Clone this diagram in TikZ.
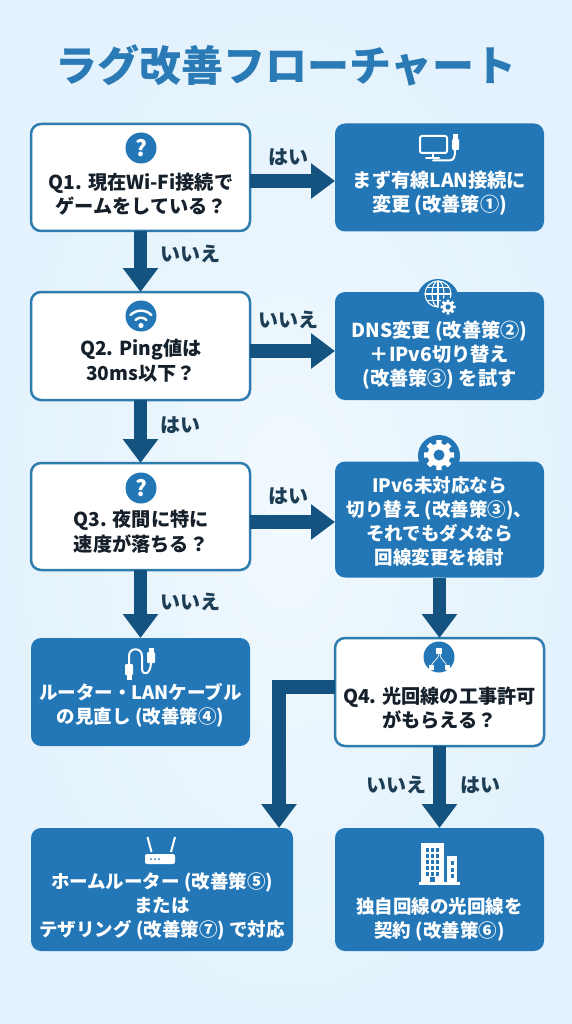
\documentclass[tikz,border=0pt]{standalone}
\usepackage{fontspec}
\setmainfont{Noto Sans CJK JP}
\usetikzlibrary{arrows.meta,calc}
\definecolor{boxblue}{HTML}{2377B7}
\definecolor{edgeblue}{HTML}{2F7DAE}
\definecolor{arrowblue}{HTML}{14527F}
\definecolor{titleblue}{HTML}{2A7AB6}
\definecolor{qtext}{HTML}{15202A}
\definecolor{labeltext}{HTML}{1D3D55}
\definecolor{bginner}{HTML}{F0F9FE}
\definecolor{bgouter}{HTML}{E3F2FC}
\newcommand{\mygear}[6]{% x,y,outer,body,hole,colour
  \begin{scope}[shift={(#1,#2)}]
    \fill[#6] (0,0) circle[radius=#4];
    \foreach \a in {0,45,...,315}{\fill[#6,rotate=\a] (-0.22*#3,0) -- (-0.17*#3,#3) -- (0.17*#3,#3) -- (0.22*#3,0) -- cycle;}
    \fill[boxblue] (0,0) circle[radius=#5];
  \end{scope}}
\tikzset{
  question/.style={draw=edgeblue,line width=2.5pt,fill=white,rounded corners=10pt,outer sep=0pt,inner sep=0pt},
  answer/.style={fill=boxblue,rounded corners=10pt,outer sep=0pt,inner sep=0pt},
  qlabel/.style={font=\fontsize{19.2}{24.5}\selectfont\bfseries,text=qtext,align=center,inner sep=0pt},
  alabel/.style={font=\fontsize{19.2}{24}\selectfont\bfseries,text=white,align=center,inner sep=0pt},
  alabelsmall/.style={font=\fontsize{18.5}{24}\selectfont\bfseries,text=white,align=center,inner sep=0pt},
  branch/.style={font=\fontsize{20}{24}\selectfont\bfseries,text=labeltext,inner sep=0pt},
  flow/.style={draw=arrowblue,line width=13.5pt,-{Triangle[length=24pt,width=34pt]}},
  iconline/.style={draw=white,line width=2pt,line cap=round,line join=round},
  iconthin/.style={draw=white,line width=1.1pt},
  badge/.style={circle,fill=boxblue,minimum size=31pt,inner sep=0pt,text=white,font=\fontsize{22}{22}\selectfont\bfseries}
}
\begin{document}
\begin{tikzpicture}[x=1pt,y=-1pt]
\useasboundingbox (0,0) rectangle (572,1024);
\shade[inner color=bginner,outer color=bgouter] (0,0) rectangle (572,1024);

\node[inner sep=0pt,text=titleblue,font=\fontsize{42}{46}\selectfont\bfseries] (title) at (286,65) {ラグ改善フローチャート};

% bumps behind icon boxes
\fill[boxblue] (438,300) circle[radius=21];
\fill[boxblue] (439,456) circle[radius=21];

% boxes
\node[question,minimum width=219pt,minimum height=107pt] (q1) at (140.5,177.5) {};
\node[answer,minimum width=209pt,minimum height=108pt] (r1) at (439.5,177.5) {};
\node[question,minimum width=219pt,minimum height=108pt] (q2) at (140.5,346) {};
\node[answer,minimum width=209pt,minimum height=108pt] (r2) at (439.5,346) {};
\node[question,minimum width=219pt,minimum height=107pt] (q3) at (140.5,516.5) {};
\node[answer,minimum width=209pt,minimum height=116pt] (r3) at (439.5,519.5) {};
\node[answer,minimum width=219pt,minimum height=108pt] (r4) at (140.5,692) {};
\node[question,minimum width=209pt,minimum height=108pt] (q4) at (439.5,692) {};
\node[answer,minimum width=262pt,minimum height=123pt] (r5) at (162,889.5) {};
\node[answer,minimum width=209pt,minimum height=123pt] (r6) at (439.5,889.5) {};

% texts
\node[qlabel] (tq1) at (141,194) {Q1. 現在Wi-Fi接続で\\ゲームをしている？};
\node[qlabel] (tq2) at (141,360.5) {Q2. Ping値は\\30ms以下？};
\node[qlabel] (tq3) at (141,531.5) {Q3. 夜間に特に\\速度が落ちる？};
\node[qlabel] (tq4) at (439.5,708) {Q4. 光回線の工事許可\\がもらえる？};
\node[alabel] (tr1) at (439.5,193.5) {まず有線LAN接続に\\変更 (改善策①)};
\node[alabel] (tr2) at (439.5,355) {DNS変更 (改善策②)\\＋IPv6切り替え\\(改善策③) を試す};
\node[alabelsmall] (tr3) at (439.5,522) {IPv6未対応なら\\切り替え (改善策③)、\\それでもダメなら\\回線変更を検討};
\node[alabelsmall] (tr4) at (140.5,705.5) {ルーター・LANケーブル\\の見直し (改善策④)};
\node[alabelsmall] (tr5) at (162,906.5) {ホームルーター (改善策⑤)\\または\\テザリング (改善策⑦) で対応};
\node[alabelsmall] (tr6) at (439.5,919) {独自回線の光回線を\\契約 (改善策⑥)};

% connectors
\draw[flow] (q1.south) -- (q2.north);
\draw[flow] (q2.south) -- (q3.north);
\draw[flow] (q3.south) -- (r4.north);
\draw[flow] (r3.south) -- (q4.north);
\draw[flow] (q4.south) -- (r6.north);
\draw[flow] ([yshift=-3.5pt]q1.east) -- ([yshift=-3.5pt]q1.east -| r1.west);
\draw[flow] ([yshift=-5pt]q2.east) -- ([yshift=-5pt]q2.east -| r2.west);
\draw[flow] ([yshift=-5.5pt]q3.east) -- ([yshift=-5.5pt]q3.east -| r3.west);
\coordinate (elbow) at (279,687);
\draw[flow] (elbow -| q4.west) -- (elbow) -- (elbow |- r5.north);

% branch labels
\node[branch] (b1) at (288,157) {はい};
\node[branch] (b2) at (190,254) {いいえ};
\node[branch] (b3) at (288,320) {いいえ};
\node[branch] (b4) at (180,425) {はい};
\node[branch] (b5) at (288,496) {はい};
\node[branch] (b6) at (190,602) {いいえ};
\node[branch] (b7) at (396,785) {いいえ};
\node[branch] (b8) at (480,785) {はい};

% question badges
\node[badge] (i1) at (141,148) {?};
\node[badge] (i3) at (141,488) {?};
\node[badge] (i2) at (141,316) {};
\fill[white] (141,325.5) circle[radius=2.6];
\draw[white,line width=2.4pt,line cap=round] (135.5,320) arc[start angle=225,end angle=315,radius=7.8];
\draw[white,line width=2.4pt,line cap=round] (130.5,315) arc[start angle=225,end angle=315,radius=14.8];

% icon: monitor and cable
\draw[iconline,rounded corners=2pt] (420,136) rectangle (447,153);
\draw[iconline] (433,153) -- (433,158);
\draw[iconline] (426,158.5) -- (439,158.5);
\draw[iconline] (433,160.5) -- (449,160.5) .. controls (454,160.5) and (455,157) .. (455,150);
\fill[white,rounded corners=1pt] (452,139) rectangle (459,150);
\fill[white] (453,134) rectangle (458,139);

% icon: globe and gear
\begin{scope}[iconthin]
\draw (438,294) circle[radius=13];
\draw (438,294) ellipse[x radius=6,y radius=13];
\draw (438,281) -- (438,307);
\draw (425,294) -- (451,294);
\draw (427,287.5) -- (449,287.5);
\draw (427,300.5) -- (449,300.5);
\end{scope}
\fill[boxblue] (448,307) circle[radius=9.5];
\mygear{448}{307}{7.5}{5.5}{2.6}{white}

% icon: big gear
\mygear{439}{455}{15}{11.5}{5.5}{white}

% icon: network
\node[badge] (i4) at (439,657) {};
\draw[white,line width=0.7pt] (439,652) .. controls (439,661) and (433,659) .. (431,667);
\draw[white,line width=0.7pt] (440,652) .. controls (440,662) and (446,660) .. (447,667);
\fill[white] (436,648) rectangle (442,654);
\fill[white] (428.5,664.5) rectangle (433.5,669.5);
\fill[white] (444.5,664.5) rectangle (449.5,669.5);

% icon: LAN cable
\draw[iconline] (129,664) -- (129,656) .. controls (129,647) and (142,647) .. (142,656) -- (142,668) .. controls (142,677) and (151,675) .. (151,662);
\fill[white,rounded corners=1pt] (125,664) rectangle (133,675);
\fill[white] (126.5,675) rectangle (131.5,680);
\fill[white,rounded corners=1pt] (147,652) rectangle (155,663);
\fill[white] (148.5,648) rectangle (153.5,652);

% icon: router
\draw[white,line width=2pt] (147.5,837) -- (151.5,852);
\draw[white,line width=2pt] (175,837) -- (171,852);
\fill[white,rounded corners=2pt] (145,854) rectangle (175,864);
\foreach \x in {151,155,159}{\fill[boxblue] (\x,859) circle[radius=1];}

% icon: buildings
\fill[white] (421,843) rectangle (444,883);
\fill[white] (447,856) rectangle (457,883);
\fill[white] (419,882) rectangle (460,885);
\foreach \yy in {848,854,860,866,872}{\foreach \xx in {426,431,436}{\fill[boxblue] (\xx,\yy) rectangle +(3.2,3.6);}}
\foreach \yy in {861,868,874}{\fill[boxblue] (450.5,\yy) rectangle +(3,3.6);}
\fill[boxblue] (430,877) rectangle (435,882);
\end{tikzpicture}
\end{document}
